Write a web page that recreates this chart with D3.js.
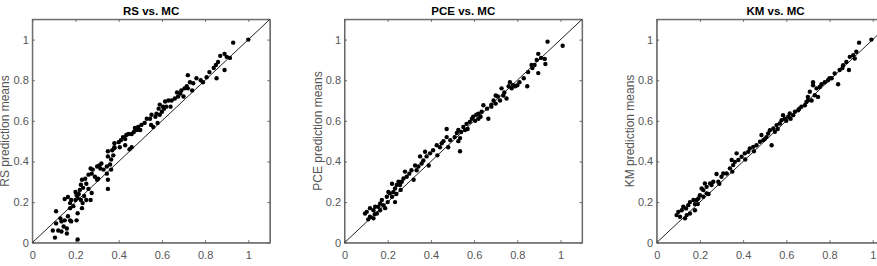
<!DOCTYPE html>
<html>
<head>
<meta charset="utf-8">
<script src="https://cdn.jsdelivr.net/npm/d3@7"></script>
<style>
  body { margin: 0; background: #fff; }
  svg { display: block; font-family: "Liberation Sans", Arial, Helvetica, sans-serif; }
</style>
</head>
<body>
<div id="chart"></div>
<script>
// values, [MC mean, surrogate mean]
var tickValues = [0, 0.2, 0.4, 0.6, 0.8, 1];
var tickLabels = ["0", "0.2", "0.4", "0.6", "0.8", "1"];
var titles = ["RS vs. MC", "PCE vs. MC", "KM vs. MC"];
var yLabels = ["RS prediction means", "PCE prediction means", "KM prediction means"];

var rsPoints = [
  [1.0,1.0],[0.93,0.985],[0.89,0.93],[0.90,0.915],[0.915,0.91],[0.87,0.92],[0.86,0.89],[0.85,0.875],
  [0.84,0.86],[0.89,0.85],[0.853,0.81],[0.82,0.84],[0.807,0.815],[0.78,0.80],[0.79,0.79],[0.76,0.81],
  [0.745,0.785],[0.72,0.825],[0.73,0.79],[0.715,0.77],[0.705,0.76],[0.69,0.75],[0.685,0.735],[0.70,0.72],
  [0.675,0.72],[0.74,0.75],[0.66,0.71],[0.645,0.70],[0.63,0.70],[0.615,0.695],[0.62,0.67],[0.605,0.67],
  [0.59,0.68],[0.585,0.66],[0.60,0.645],[0.575,0.635],[0.59,0.63],[0.57,0.62],[0.552,0.63],[0.545,0.61],
  [0.53,0.61],[0.58,0.59],[0.52,0.59],[0.505,0.58],[0.49,0.57],[0.50,0.555],[0.485,0.555],[0.47,0.545],
  [0.475,0.565],[0.46,0.535],[0.445,0.535],[0.435,0.53],[0.43,0.51],[0.45,0.46],[0.46,0.47],[0.41,0.505],
  [0.40,0.495],[0.38,0.49],[0.405,0.47],[0.38,0.465],[0.37,0.455],[0.375,0.43],[0.35,0.45],[0.35,0.425],
  [0.365,0.41],[0.36,0.385],[0.345,0.375],[0.365,0.36],[0.345,0.34],[0.33,0.36],[0.315,0.365],[0.30,0.375],
  [0.28,0.36],[0.275,0.34],[0.27,0.365],[0.29,0.325],[0.305,0.315],[0.30,0.31],[0.35,0.31],[0.35,0.265],
  [0.26,0.335],[0.245,0.315],[0.23,0.31],[0.25,0.29],[0.225,0.285],[0.235,0.27],[0.26,0.265],[0.275,0.245],
  [0.27,0.21],[0.20,0.25],[0.205,0.235],[0.21,0.22],[0.20,0.21],[0.18,0.21],[0.225,0.21],[0.233,0.195],
  [0.175,0.195],[0.165,0.225],[0.15,0.215],[0.175,0.17],[0.21,0.145],[0.23,0.17],[0.205,0.11],[0.21,0.016],
  [0.11,0.155],[0.13,0.12],[0.135,0.105],[0.15,0.11],[0.165,0.13],[0.175,0.11],[0.18,0.105],[0.145,0.08],
  [0.16,0.07],[0.12,0.06],[0.135,0.055],[0.16,0.045],[0.095,0.06],[0.105,0.025],[0.11,0.095],
  [0.215,0.24],[0.22,0.26],[0.24,0.23],[0.32,0.39],[0.31,0.38],[0.42,0.52],[0.55,0.58],[0.56,0.57],
  [0.61,0.66],[0.64,0.67],[0.67,0.74],[0.72,0.76],[0.25,0.21],[0.19,0.18],[0.43,0.48],[0.38,0.47]
];

var pcePoints = [
  [1.01,0.97],[0.94,0.99],[0.897,0.93],[0.91,0.91],[0.927,0.905],[0.89,0.90],[0.88,0.875],[0.866,0.875],
  [0.93,0.88],[0.897,0.835],[0.85,0.84],[0.846,0.77],[0.83,0.81],[0.81,0.79],[0.80,0.775],[0.78,0.775],
  [0.766,0.79],[0.76,0.77],[0.774,0.76],[0.74,0.74],[0.727,0.76],[0.735,0.725],[0.71,0.72],[0.70,0.725],
  [0.69,0.70],[0.75,0.71],[0.72,0.70],[0.70,0.685],[0.68,0.67],[0.66,0.66],[0.643,0.677],[0.666,0.61],
  [0.635,0.645],[0.62,0.635],[0.61,0.63],[0.596,0.62],[0.59,0.61],[0.605,0.60],[0.58,0.595],[0.565,0.585],
  [0.55,0.57],[0.558,0.555],[0.54,0.545],[0.527,0.555],[0.52,0.54],[0.535,0.515],[0.527,0.50],[0.535,0.45],
  [0.51,0.52],[0.473,0.56],[0.49,0.505],[0.473,0.52],[0.458,0.50],[0.442,0.47],[0.45,0.49],[0.427,0.48],
  [0.41,0.455],[0.396,0.44],[0.373,0.448],[0.38,0.425],[0.365,0.405],[0.357,0.39],[0.35,0.425],[0.342,0.375],
  [0.327,0.38],[0.334,0.357],[0.31,0.357],[0.30,0.34],[0.28,0.35],[0.288,0.325],[0.273,0.316],[0.265,0.30],
  [0.25,0.30],[0.257,0.284],[0.242,0.284],[0.234,0.267],[0.22,0.29],[0.226,0.25],[0.21,0.243],[0.203,0.25],
  [0.22,0.226],[0.234,0.20],[0.196,0.226],[0.173,0.21],[0.165,0.193],[0.18,0.185],[0.157,0.177],[0.142,0.177],
  [0.134,0.16],[0.118,0.17],[0.103,0.152],[0.095,0.144],[0.118,0.128],[0.134,0.12],[0.11,0.115],[0.15,0.144],
  [0.188,0.17],[0.165,0.16],[0.62,0.61],[0.63,0.62],[0.57,0.56],[0.48,0.47],[0.43,0.43],[0.39,0.38],
  [0.32,0.31],[0.26,0.26],[0.24,0.24],[0.2,0.2],[0.14,0.14],[0.68,0.68],[0.79,0.77],[0.87,0.86]
];

var kmPoints = [
  [0.937,0.985],[0.924,0.94],[0.91,0.923],[0.917,0.907],[0.894,0.915],[0.878,0.89],[0.89,0.85],[0.863,0.874],
  [0.847,0.85],[0.84,0.78],[0.824,0.833],[0.994,1.0],[0.81,0.81],[0.793,0.80],[0.778,0.79],[0.763,0.78],
  [0.755,0.767],[0.74,0.76],[0.724,0.775],[0.724,0.79],[0.747,0.718],[0.732,0.726],[0.709,0.743],[0.70,0.718],
  [0.693,0.693],[0.717,0.70],[0.686,0.677],[0.67,0.67],[0.655,0.652],[0.64,0.645],[0.632,0.628],[0.616,0.636],
  [0.609,0.62],[0.593,0.611],[0.585,0.628],[0.578,0.603],[0.57,0.587],[0.555,0.579],[0.54,0.562],[0.547,0.546],
  [0.524,0.554],[0.516,0.538],[0.508,0.52],[0.532,0.48],[0.485,0.53],[0.493,0.505],[0.478,0.497],[0.462,0.48],
  [0.447,0.472],[0.431,0.464],[0.424,0.448],[0.408,0.44],[0.393,0.423],[0.37,0.44],[0.378,0.407],[0.362,0.398],
  [0.354,0.382],[0.347,0.407],[0.339,0.366],[0.324,0.341],[0.308,0.341],[0.30,0.325],[0.285,0.30],[0.277,0.338],
  [0.262,0.30],[0.254,0.284],[0.247,0.292],[0.231,0.275],[0.223,0.292],[0.216,0.259],[0.208,0.267],[0.231,0.243],
  [0.216,0.226],[0.20,0.234],[0.193,0.218],[0.185,0.21],[0.177,0.19],[0.17,0.21],[0.154,0.20],[0.146,0.185],
  [0.136,0.169],[0.123,0.177],[0.116,0.16],[0.10,0.152],[0.092,0.136],[0.108,0.128],[0.131,0.12],[0.154,0.144],
  [0.139,0.136],[0.177,0.16],[0.60,0.60],[0.62,0.61],[0.66,0.66],[0.50,0.51],[0.45,0.45],[0.41,0.41],
  [0.35,0.35],[0.29,0.29],[0.24,0.24],[0.19,0.19],[0.86,0.86],[0.80,0.81],[0.70,0.70],[0.56,0.56]
];

var series = [rsPoints, pcePoints, kmPoints];

var width = 877, height = 266;
var panel = {left: 32.3, step: 312.2, top: 19.3, w: 237.6, h: 223.4};

var svg = d3.select("#chart").append("svg")
  .attr("width", width)
  .attr("height", height);

series.forEach(function(points, i) {
  var x = d3.scaleLinear().domain([0, 1.1]).range([0, panel.w]);
  var y = d3.scaleLinear().domain([0, 1.1]).range([panel.h, 0]);

  var g = svg.append("g")
    .attr("transform", "translate(" + (panel.left + i * panel.step) + "," + panel.top + ")");

  var fmt = function(d, j) { return tickLabels[j]; };

  g.append("g")
    .attr("class", "axis")
    .attr("transform", "translate(0," + panel.h + ")")
    .call(d3.axisBottom(x).tickValues(tickValues).tickFormat(fmt).tickSizeInner(-2.5).tickSizeOuter(0).tickPadding(8.5));
  g.append("g")
    .attr("class", "axis")
    .call(d3.axisLeft(y).tickValues(tickValues).tickFormat(fmt).tickSizeInner(-2.5).tickSizeOuter(0).tickPadding(3.5));
  g.append("g")
    .attr("class", "axis")
    .call(d3.axisTop(x).tickValues(tickValues).tickFormat("").tickSizeInner(-2.5).tickSizeOuter(0));
  g.append("g")
    .attr("class", "axis")
    .attr("transform", "translate(" + panel.w + ",0)")
    .call(d3.axisRight(y).tickValues(tickValues).tickFormat("").tickSizeInner(-2.5).tickSizeOuter(0));

  g.selectAll(".axis path").attr("stroke", "#666");
  g.selectAll(".axis line").attr("stroke", "#666");
  g.selectAll(".axis text").attr("fill", "#555").attr("font-size", "11px")
    .attr("font-family", "'Liberation Sans', Arial, sans-serif");

  g.append("rect")
    .attr("width", panel.w).attr("height", panel.h)
    .attr("fill", "none").attr("stroke", "#666").attr("stroke-width", 1);

  g.append("line")
    .attr("x1", x(0)).attr("y1", y(0))
    .attr("x2", x(1.1)).attr("y2", y(1.1))
    .attr("stroke", "#222").attr("stroke-width", 1);

  g.selectAll("circle.pt")
    .data(points)
    .enter().append("circle")
    .attr("class", "pt")
    .attr("cx", function(d) { return x(d[0]); })
    .attr("cy", function(d) { return y(d[1]); })
    .attr("r", 2.2)
    .attr("fill", "#000");

  g.append("text")
    .attr("x", panel.w / 2).attr("y", -4.5)
    .attr("text-anchor", "middle")
    .attr("font-size", "11.5px").attr("font-weight", "bold")
    .attr("fill", "#000")
    .text(titles[i]);

  g.append("text")
    .attr("transform", "translate(-23," + (panel.h / 2) + ") rotate(-90)")
    .attr("text-anchor", "middle")
    .attr("font-size", "12px")
    .attr("fill", "#555")
    .text(yLabels[i]);
});
</script>
</body>
</html>
